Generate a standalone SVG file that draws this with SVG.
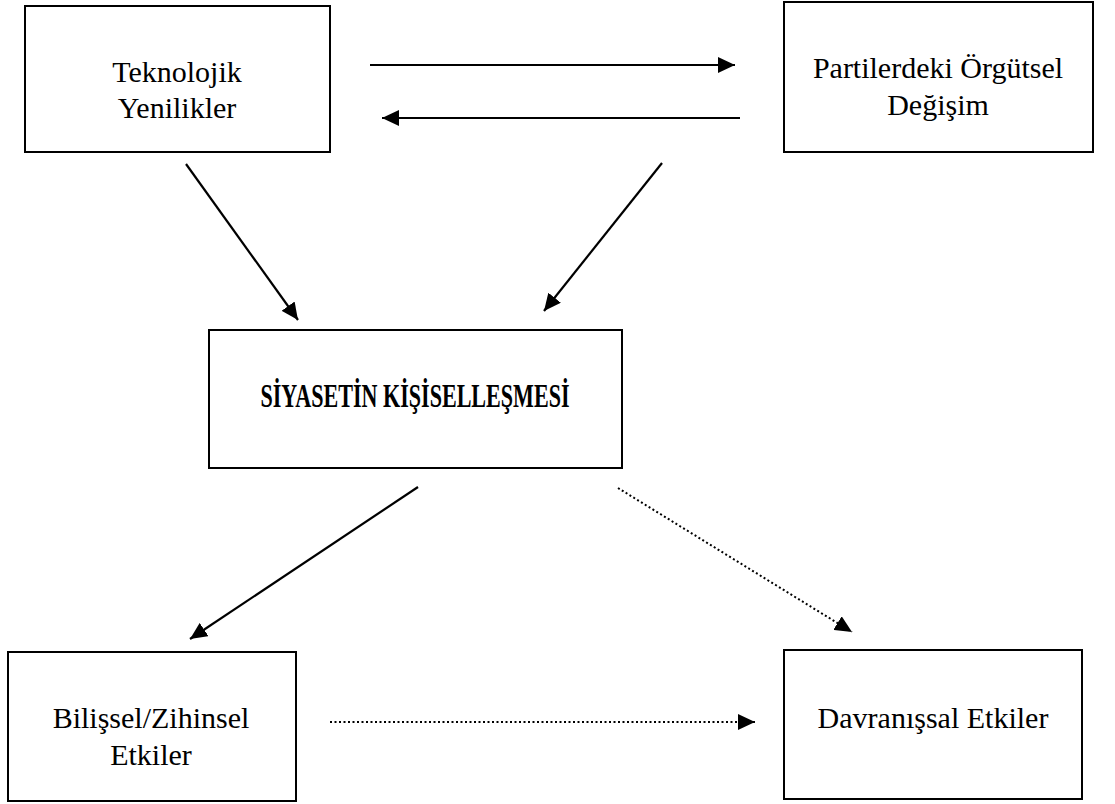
<svg xmlns="http://www.w3.org/2000/svg" width="1115" height="804" viewBox="0 0 1115 804">
<style>
.box{fill:#fff;stroke:#000;stroke-width:2}
.t{font-family:"Liberation Serif","Times New Roman",serif;font-size:30px;fill:#000;text-anchor:middle}
.b{font-weight:bold;font-size:33px}
.c{stroke:#000;stroke-width:2.2;fill:none;marker-end:url(#ah)}
.d{stroke-dasharray:2 2.5;stroke-width:2}
</style>
<defs>
<marker id="ah" markerUnits="userSpaceOnUse" markerWidth="17" markerHeight="16" refX="17" refY="8" orient="auto">
<path d="M0,0 L17,8 L0,16 z" fill="#000"/>
</marker>
</defs>
<rect width="1115" height="804" fill="#fff"/>
<g id="connectors">
<line class="c" x1="370" y1="65" x2="735" y2="65"/>
<line class="c" x1="740" y1="118" x2="382" y2="118"/>
<line class="c" x1="186" y1="164" x2="298" y2="320"/>
<line class="c" x1="662" y1="163" x2="544" y2="311"/>
<line class="c" x1="418" y1="487" x2="190" y2="639"/>
<line class="c d" x1="618" y1="488" x2="852" y2="632"/>
<line class="c d" x1="330" y1="722" x2="755" y2="722"/>
</g>
<g id="teknolojik">
<rect class="box" x="25" y="6" width="305" height="146"/>
<text class="t" x="177" y="82">Teknolojik</text>
<text class="t" x="177" y="118">Yenilikler</text>
</g>
<g id="partiler">
<rect class="box" x="784" y="2" width="309" height="150"/>
<text class="t" x="938" y="78">Partilerdeki Örgütsel</text>
<text class="t" x="938" y="115">Değişim</text>
</g>
<g id="siyaset">
<rect class="box" x="209" y="330" width="413" height="138"/>
<text class="t b" x="415" y="407" textLength="309" lengthAdjust="spacingAndGlyphs">SİYASETİN KİŞİSELLEŞMESİ</text>
</g>
<g id="bilissel">
<rect class="box" x="8" y="652" width="288" height="149"/>
<text class="t" x="151" y="728">Bilişsel/Zihinsel</text>
<text class="t" x="151" y="765">Etkiler</text>
</g>
<g id="davranissal">
<rect class="box" x="784" y="650" width="298" height="149"/>
<text class="t" x="933" y="728">Davranışsal Etkiler</text>
</g>
</svg>
